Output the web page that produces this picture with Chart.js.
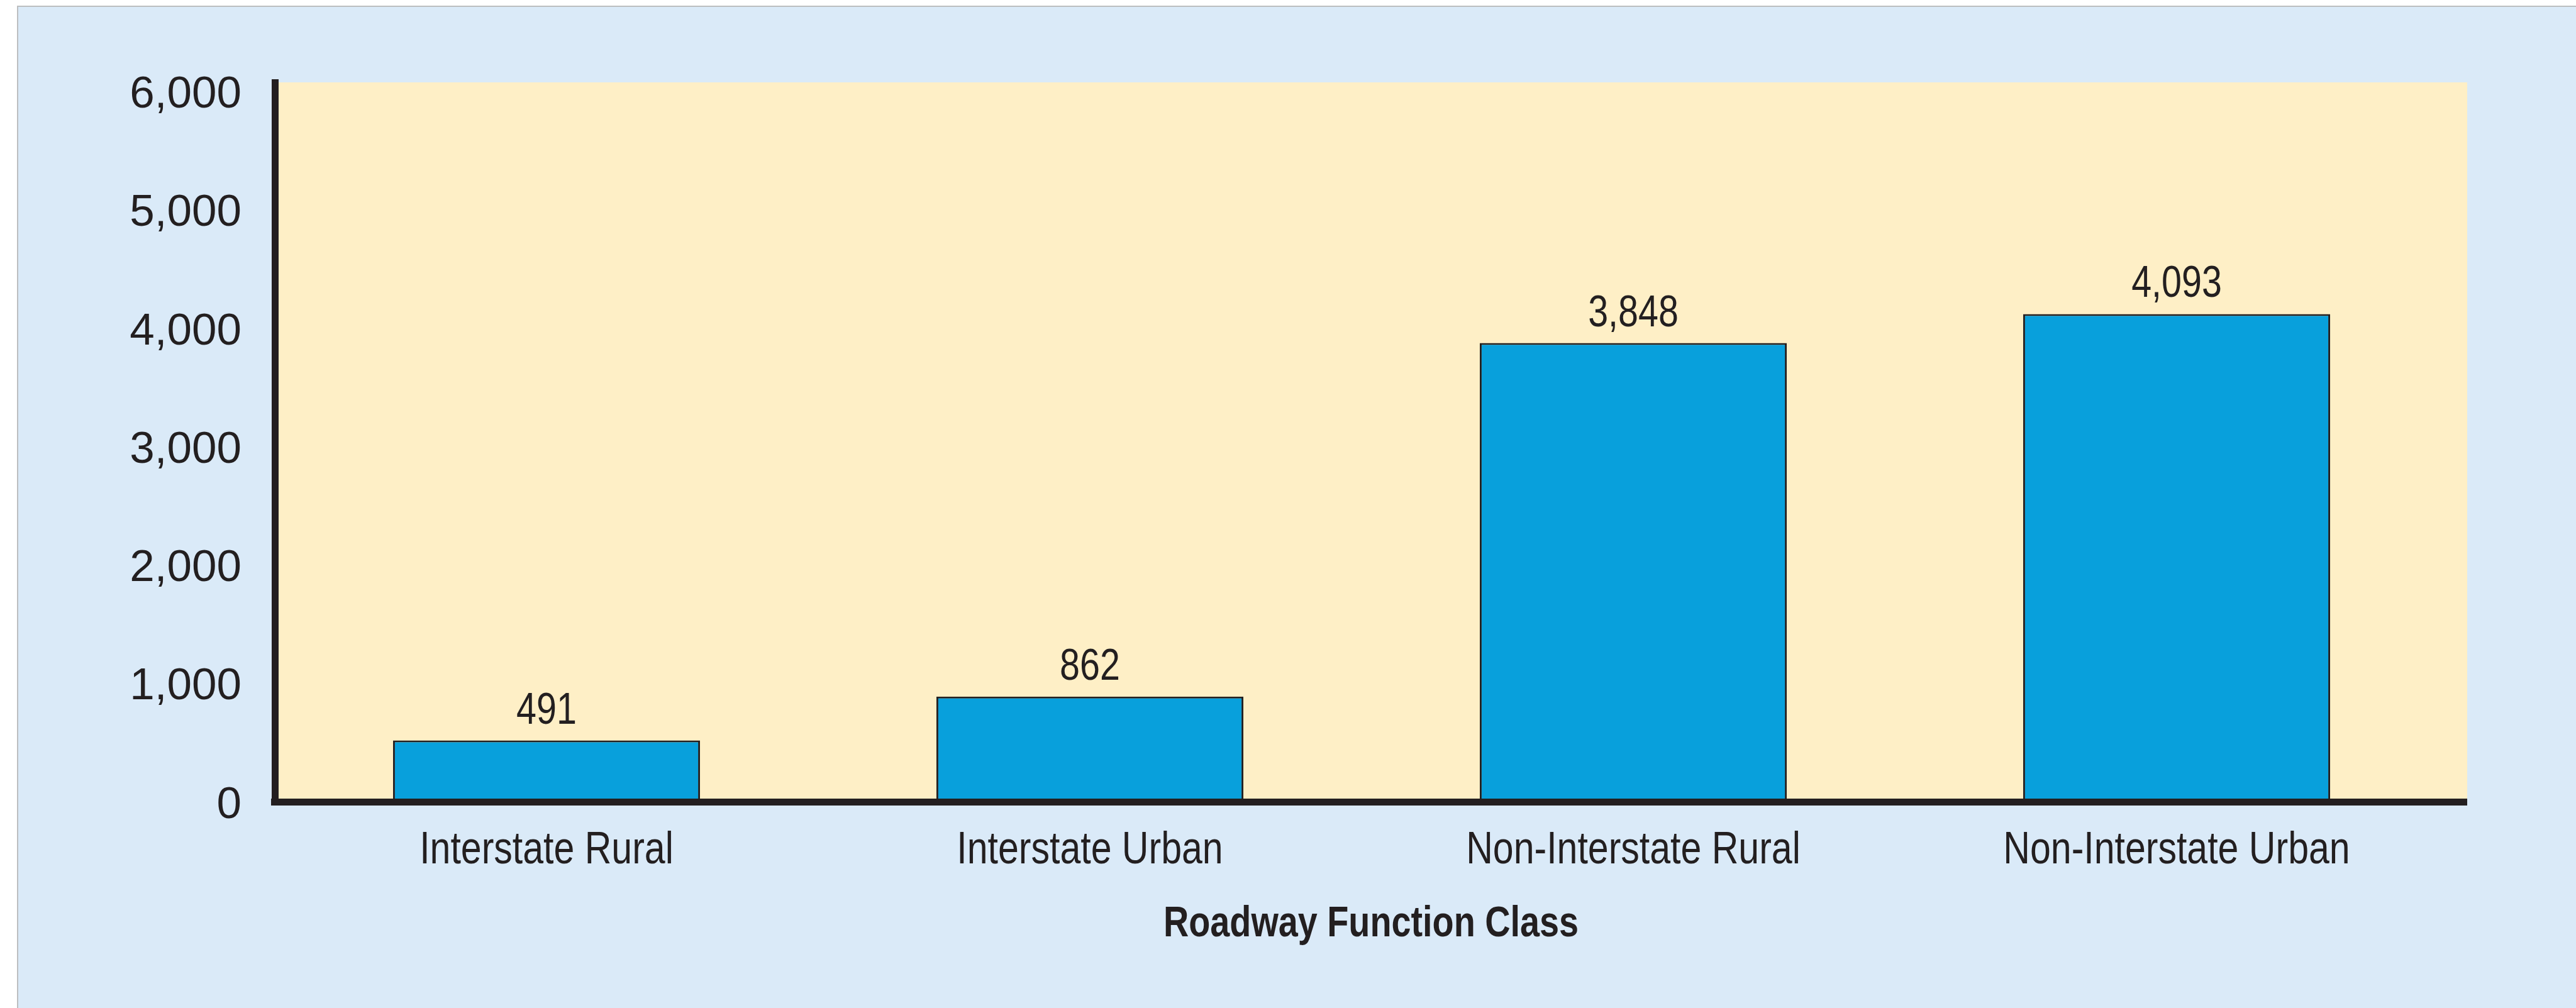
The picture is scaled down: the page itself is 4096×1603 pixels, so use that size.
<!DOCTYPE html>
<html lang="en">
<head>
<meta charset="UTF-8">
<title>Roadway Function Class</title>
<style>
  html, body { margin: 0; padding: 0; background: #fff; overflow: hidden; }
  #panel {
    position: absolute; left: 27px; top: 9px;
    width: 4200px; height: 1700px;
    background: #daeaf8; border: 2px solid #bcbec0; box-sizing: border-box;
  }
  #wrap { position: absolute; left: 0; top: 0; width: 4096px; height: 1603px; }
</style>
</head>
<body>
<div id="panel"></div>
<div id="wrap"><canvas id="myChart"></canvas></div>

<script src="https://cdn.jsdelivr.net/npm/chart.js"></script>
<script>
    const categories = ['Interstate Rural', 'Interstate Urban', 'Non-Interstate Rural', 'Non-Interstate Urban'];
    const values = [491, 862, 3848, 4093];
    const yTicks = [0, 1000, 2000, 3000, 4000, 5000, 6000];
    const xTitle = 'Roadway Function Class';

    const ink = '#231f20';
    const sans = '"Liberation Sans", Arial, sans-serif';
    const squeeze = 0.82;   // no condensed face installed, so squeeze text by hand

    function narrowText(ctx, text, x, y) {
        ctx.save();
        ctx.translate(x, y);
        ctx.scale(squeeze, 1);
        ctx.fillText(text, 0, 0);
        ctx.restore();
    }

    // yellow plot background, x axis bar, category labels, axis title and value labels
    const decor = {
        id: 'decor',
        beforeDraw(chart) {
            const {ctx, chartArea: a} = chart;
            ctx.save();
            ctx.fillStyle = '#feefc6';
            ctx.fillRect(a.left, a.top, a.right - a.left + 30, a.bottom - a.top);
            ctx.restore();
        },
        afterDatasetsDraw(chart) {
            const {ctx, chartArea: a} = chart;
            const xs = chart.scales.x;
            const y0 = chart.scales.y.getPixelForValue(0);
            ctx.save();
            ctx.fillStyle = ink;
            ctx.fillRect(a.left - 6, y0, a.right - a.left + 36, 11);

            ctx.textAlign = 'center';
            ctx.textBaseline = 'alphabetic';
            ctx.font = '70px ' + sans;
            chart.getDatasetMeta(0).data.forEach((bar, i) => {
                narrowText(ctx, values[i].toLocaleString('en-US'), bar.x, bar.y - 27);
            });

            ctx.textBaseline = 'middle';
            ctx.font = '72px ' + sans;
            categories.forEach((c, i) => {
                narrowText(ctx, c, xs.getPixelForTick(i), y0 + 83);
            });

            ctx.font = 'bold 68px ' + sans;
            narrowText(ctx, xTitle, (a.left + a.right + 30) / 2, y0 + 200);
            ctx.restore();
        }
    };

    new Chart('myChart', {
        type: 'bar',
        data: {
            labels: categories,
            datasets: [{
                data: values,
                backgroundColor: '#08a0dc',
                borderColor: ink,
                borderWidth: 3,
                barPercentage: 0.565,
                categoryPercentage: 1
            }]
        },
        options: {
            responsive: true,
            maintainAspectRatio: false,
            animation: false,
            devicePixelRatio: 1,
            layout: { padding: { top: 131, right: 203, bottom: 0, left: 0 } },
            plugins: { legend: { display: false }, tooltip: { enabled: false } },
            scales: {
                x: {
                    afterFit: s => { s.height = 333; },
                    grid: { display: false, drawTicks: false },
                    border: { display: false },
                    ticks: { display: false }
                },
                y: {
                    min: 0,
                    max: 6050,
                    afterBuildTicks: s => { s.ticks = yTicks.map(v => ({ value: v })); },
                    afterFit: s => { s.width = 437; },
                    grid: { display: false, drawTicks: false },
                    border: { display: true, color: ink, width: 11 },
                    ticks: {
                        color: ink,
                        font: { family: sans, size: 71 },
                        padding: 53,
                        labelOffset: 11,
                        callback: v => v.toLocaleString('en-US')
                    }
                }
            }
        },
        plugins: [decor]
    });
</script>
</body>
</html>
